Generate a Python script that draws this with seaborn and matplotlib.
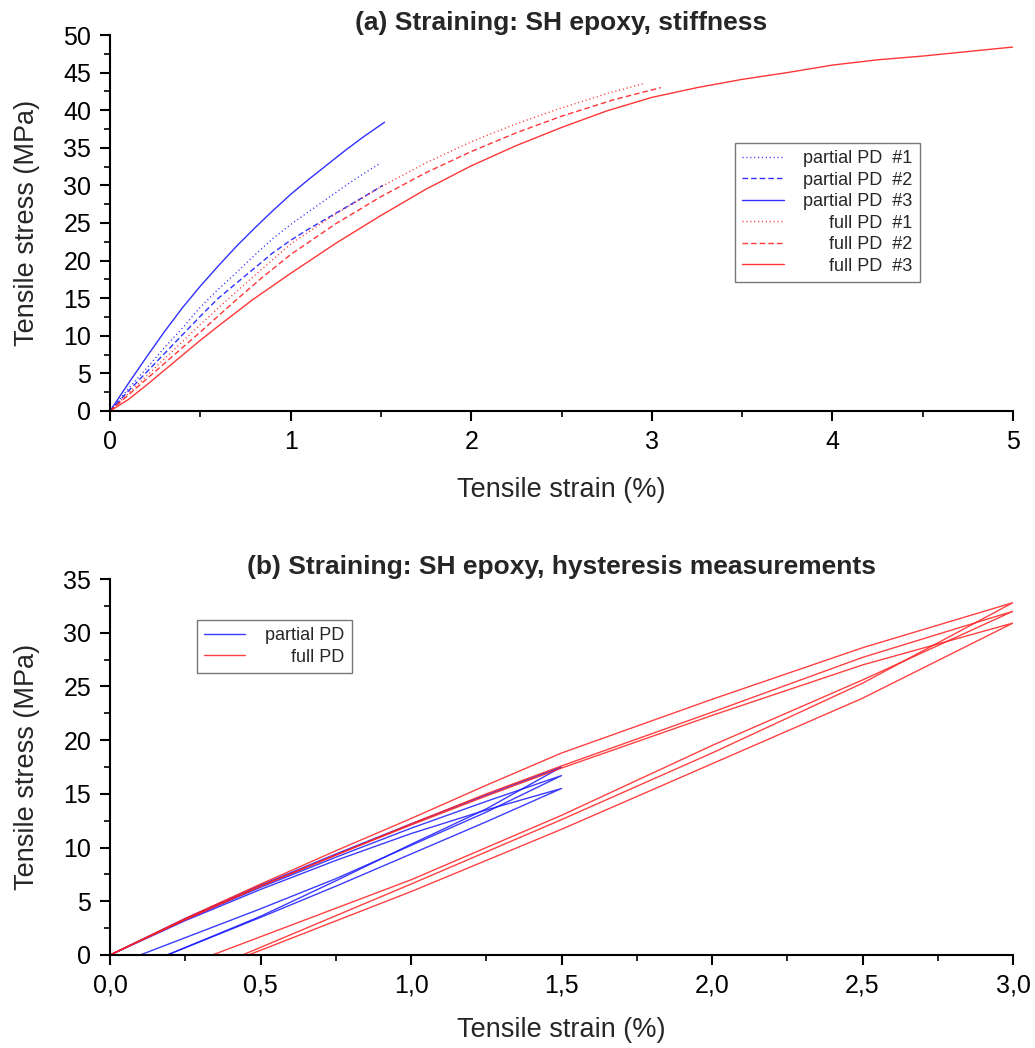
import numpy as np
import pandas as pd
import matplotlib
matplotlib.use("Agg")
import matplotlib.pyplot as plt
from matplotlib.ticker import MultipleLocator
import seaborn as sns

# ---------------- Panel (a) data: stiffness curves ----------------
p1_strain = [0, 0.1, 0.2, 0.3, 0.4, 0.5, 0.6, 0.7, 0.8, 0.9, 1.0, 1.1, 1.2, 1.3, 1.4, 1.5]
p1_stress = [0, 2.9, 5.6, 8.4, 11.0, 13.8, 16.2, 18.4, 20.7, 22.9, 24.8, 26.5, 28.2, 29.9, 31.5, 33.0]

p2_strain = [0, 0.1, 0.2, 0.3, 0.4, 0.5, 0.6, 0.7, 0.8, 0.9, 1.0, 1.1, 1.2, 1.3, 1.4, 1.51]
p2_stress = [0, 2.6, 5.1, 7.6, 10.1, 12.6, 15.0, 17.0, 19.0, 21.0, 22.7, 24.2, 25.6, 27.0, 28.4, 30.0]

p3_strain = [0, 0.1, 0.2, 0.3, 0.4, 0.5, 0.6, 0.7, 0.8, 0.9, 1.0, 1.1, 1.2, 1.3, 1.4, 1.52]
p3_stress = [0, 3.6, 7.1, 10.5, 13.7, 16.6, 19.3, 21.9, 24.3, 26.6, 28.8, 30.8, 32.7, 34.6, 36.4, 38.4]

f1_strain = [0, 0.1, 0.2, 0.3, 0.4, 0.5, 0.65, 0.8, 1.0, 1.25, 1.5, 1.75, 2.0, 2.25, 2.5, 2.75, 2.95]
f1_stress = [0, 2.3, 4.6, 6.9, 9.2, 11.5, 14.8, 18.0, 22.2, 26.2, 29.8, 33.0, 35.8, 38.2, 40.3, 42.2, 43.5]

f2_strain = [0, 0.1, 0.2, 0.3, 0.4, 0.5, 0.7, 0.85, 1.0, 1.25, 1.5, 1.75, 2.0, 2.25, 2.5, 2.79, 3.05]
f2_stress = [0, 2.1, 4.2, 6.3, 8.4, 10.5, 14.8, 17.9, 20.8, 24.9, 28.5, 31.7, 34.5, 37.0, 39.2, 41.4, 43.0]

f3_strain = [0, 0.1, 0.2, 0.3, 0.4, 0.5, 0.6, 0.79, 1.0, 1.25, 1.5, 1.75, 2.0, 2.25, 2.5, 2.75,
             3.0, 3.25, 3.5, 3.75, 4.0, 4.25, 4.5, 4.75, 5.0]
f3_stress = [0, 1.5, 3.4, 5.4, 7.4, 9.4, 11.3, 14.8, 18.3, 22.3, 26.0, 29.5, 32.6, 35.3, 37.7, 39.9,
             41.7, 43.0, 44.1, 45.0, 46.0, 46.7, 47.2, 47.8, 48.4]

labels_a = ["partial PD  #1", "partial PD  #2", "partial PD  #3",
            "full PD  #1", "full PD  #2", "full PD  #3"]

# ---------------- Panel (b) data: hysteresis loops ----------------
# each loop: loading from origin to peak, then unloading to residual strain
rA_strain = [0, 0.25, 0.5, 0.75, 1.0, 1.25, 1.5, 2.0, 2.5, 3.0, 2.5, 2.0, 1.5, 1.0, 0.44]
rA_stress = [0, 3.4, 6.6, 9.7, 12.7, 15.8, 18.8, 23.8, 28.6, 32.8, 25.3, 18.8, 12.6, 6.6, 0]
rB_strain = [0, 0.25, 0.5, 0.75, 1.0, 1.25, 1.5, 2.0, 2.5, 3.0, 2.5, 2.0, 1.5, 1.0, 0.34]
rB_stress = [0, 3.3, 6.4, 9.3, 12.2, 15.0, 17.6, 22.6, 27.7, 32.0, 25.6, 19.5, 13.0, 7.0, 0]
rC_strain = [0, 0.25, 0.5, 0.75, 1.0, 1.25, 1.5, 2.0, 2.5, 3.0, 2.5, 2.0, 1.5, 1.0, 0.46]
rC_stress = [0, 3.3, 6.4, 9.3, 12.1, 14.8, 17.4, 22.3, 27.0, 30.9, 23.9, 17.8, 11.7, 5.9, 0]

bD_strain = [0, 0.25, 0.5, 0.75, 1.0, 1.25, 1.5, 1.25, 1.0, 0.75, 0.5, 0.19]
bD_stress = [0, 3.4, 6.5, 9.4, 12.2, 14.9, 17.5, 13.6, 10.3, 6.9, 3.6, 0]
bE_strain = [0, 0.25, 0.5, 0.75, 1.0, 1.25, 1.5, 1.25, 1.0, 0.75, 0.5, 0.10]
bE_stress = [0, 3.3, 6.3, 9.1, 11.8, 14.3, 16.7, 13.3, 10.2, 7.1, 4.3, 0]
bF_strain = [0, 0.25, 0.5, 0.75, 1.0, 1.25, 1.5, 1.25, 1.0, 0.75, 0.5, 0.19]
bF_stress = [0, 3.2, 6.1, 8.8, 11.3, 13.5, 15.5, 12.4, 9.4, 6.4, 3.5, 0]

labels_b = ["partial PD", "full PD"]

xticks_a = [0, 1, 2, 3, 4, 5]
xtick_labels_a = ["0", "1", "2", "3", "4", "5"]
yticks_a = [0, 5, 10, 15, 20, 25, 30, 35, 40, 45, 50]
xticks_b = [0.0, 0.5, 1.0, 1.5, 2.0, 2.5, 3.0]
xtick_labels_b = ["0,0", "0,5", "1,0", "1,5", "2,0", "2,5", "3,0"]
yticks_b = [0, 5, 10, 15, 20, 25, 30, 35]

# ---------------- styling ----------------
sns.set_theme(style="ticks")
plt.rcParams["font.family"] = ["Liberation Sans", "DejaVu Sans"]
plt.rcParams["axes.linewidth"] = 1.5

BLUE = "#1a1aff"
RED = "#ff2020"
DPI = 100
fig = plt.figure(figsize=(10.35, 10.48), dpi=DPI)
ax1 = fig.add_axes([110 / 1035, (1048 - 411) / 1048, 903 / 1035, 376 / 1048])
ax2 = fig.add_axes([110 / 1035, (1048 - 955) / 1048, 903 / 1035, 376 / 1048])

lw = 1.0
dot = (0, (0.8, 2.0))
dash = (0, (4, 2.2))
curves_a = [
    (p1_strain, p1_stress, BLUE, dot),
    (p2_strain, p2_stress, BLUE, dash),
    (p3_strain, p3_stress, BLUE, "-"),
    (f1_strain, f1_stress, RED, dot),
    (f2_strain, f2_stress, RED, dash),
    (f3_strain, f3_stress, RED, "-"),
]
for (xs, ys, c, ls), lab in zip(curves_a, labels_a):
    sns.lineplot(x=xs, y=ys, ax=ax1, color=c, linestyle=ls, linewidth=lw,
                 sort=False, estimator=None, label=lab, alpha=0.9)

loops_b = [
    (bD_strain, bD_stress, BLUE, labels_b[0]),
    (bE_strain, bE_stress, BLUE, None),
    (bF_strain, bF_stress, BLUE, None),
    (rA_strain, rA_stress, RED, labels_b[1]),
    (rB_strain, rB_stress, RED, None),
    (rC_strain, rC_stress, RED, None),
]
for xs, ys, c, lab in loops_b:
    sns.lineplot(x=xs, y=ys, ax=ax2, color=c, linewidth=lw, sort=False,
                 estimator=None, label=lab, alpha=0.85)


def style_axis(ax, xlim, ylim, xticks, xlabels, yticks, xminor, yminor, title, xpad):
    ax.set_xlim(*xlim)
    ax.set_ylim(*ylim)
    ax.set_xticks(xticks)
    ax.set_xticklabels(xlabels)
    ax.set_yticks(yticks)
    ax.xaxis.set_minor_locator(MultipleLocator(xminor))
    ax.yaxis.set_minor_locator(MultipleLocator(yminor))
    sns.despine(ax=ax)
    for s in ("left", "bottom"):
        ax.spines[s].set_color("black")
        ax.spines[s].set_linewidth(1.5)
    ax.tick_params(axis="both", which="major", direction="out", length=7.5, width=1.5,
                   labelsize=18, colors="black", pad=6)
    ax.tick_params(axis="both", which="minor", direction="out", length=4.5, width=1.2,
                   colors="black")
    ax.set_xlabel("Tensile strain (%)", fontsize=19.5, labelpad=xpad)
    ax.set_ylabel("Tensile stress (MPa)", fontsize=19.5, labelpad=17)
    ax.set_title(title, fontsize=19, fontweight="bold", pad=3)
    ax.grid(False)


style_axis(ax1, (0, 5), (0, 50), xticks_a, xtick_labels_a, yticks_a, 0.5, 2.5,
           "(a) Straining: SH epoxy, stiffness", 17)
style_axis(ax2, (0, 3), (0, 35), xticks_b, xtick_labels_b, yticks_b, 0.25, 2.5,
           "(b) Straining: SH epoxy, hysteresis measurements", 14)

leg_kw = dict(loc="upper left", frameon=True, fancybox=False, edgecolor="#555555",
              fontsize=13, handlelength=2.3, handletextpad=1.1, borderpad=0.4,
              labelspacing=0.25, borderaxespad=0)
leg1 = ax1.legend(bbox_to_anchor=(0.692, 0.713), **leg_kw)
leg1.get_frame().set_linewidth(1.0)
leg2 = ax2.legend(bbox_to_anchor=(0.096, 0.891), **leg_kw)
leg2.get_frame().set_linewidth(1.0)

# right-align the legend texts
fig.canvas.draw()
renderer = fig.canvas.get_renderer()
for leg in (leg1, leg2):
    texts = leg.get_texts()
    widths = [t.get_window_extent(renderer).width for t in texts]
    shift = max(widths)
    for t, w in zip(texts, widths):
        t.set_position((shift - w, 0))

fig.savefig("out.png", dpi=DPI, facecolor="white")
